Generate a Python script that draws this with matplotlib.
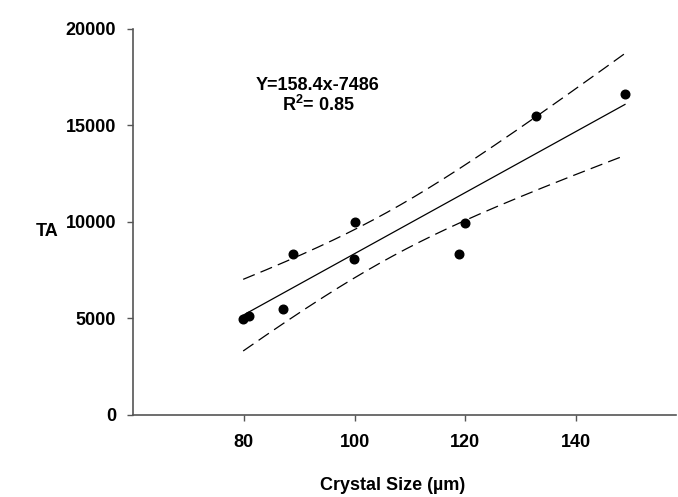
import numpy as np
import matplotlib
matplotlib.use("Agg")
import matplotlib.pyplot as plt

plt.rcParams['font.family'] = ['Liberation Sans', 'DejaVu Sans']
plt.rcParams['font.weight'] = 'bold'
plt.rcParams['mathtext.fontset'] = 'custom'
plt.rcParams['mathtext.bf'] = 'Liberation Sans:bold'
plt.rcParams['mathtext.rm'] = 'Liberation Sans:bold'

crystal_size = [79.9, 81.0, 87.0, 88.9, 100.0, 99.9, 118.8, 119.9, 132.8, 148.8]
ta = [4960, 5130, 5490, 8330, 10000, 8080, 8330, 9960, 15510, 16620]

# fit shown on the chart
slope = 158.4
intercept = -7486
r2 = 0.85
t_crit = 2.306  # 95%, df = 8

x = np.array(crystal_size)
y = np.array(ta)
n = len(x)
xf = np.linspace(x.min(), x.max(), 200)
yf = slope * xf + intercept
resid = y - (slope * x + intercept)
s = np.sqrt(np.sum(resid ** 2) / (n - 2))
sxx = np.sum((x - x.mean()) ** 2)
half = t_crit * s * np.sqrt(1.0 / n + (xf - x.mean()) ** 2 / sxx)

fig = plt.figure(figsize=(6.78, 4.97), dpi=100)
ax = fig.add_axes([0.196, 0.165, 0.801, 0.777])

ax.plot(xf, yf, color='black', lw=0.9)
ax.plot(xf, yf + half, color='black', lw=0.9, dashes=(10, 5))
ax.plot(xf, yf - half, color='black', lw=0.9, dashes=(10, 5))
ax.plot(x, y, 'o', color='black', markersize=6.2)

ax.set_xlim(60, 158)
ax.set_ylim(0, 20000)
ax.set_xticks([80, 100, 120, 140])
ax.set_yticks([0, 5000, 10000, 15000, 20000])

for sp in ['top', 'right']:
    ax.spines[sp].set_visible(False)
for sp in ['left', 'bottom']:
    ax.spines[sp].set_color('#555555')
    ax.spines[sp].set_linewidth(1.2)

ax.tick_params(axis='both', direction='out', length=4.5, width=1, color='#555555',
               labelsize=13)
ax.tick_params(axis='y', pad=7.5)
ax.tick_params(axis='x', pad=9)
for lab in ax.get_xticklabels() + ax.get_yticklabels():
    lab.set_fontweight('bold')

fig.text(47 / 678, 1 - 232 / 497, 'TA', ha='center', va='center',
         fontsize=13, fontweight='bold')
fig.text(393 / 678, 1 - 486 / 497, 'Crystal Size (\u00b5m)', ha='center', va='center',
         fontsize=13, fontweight='bold')

ax.text(93.4, 17050, 'Y=%.1fx%d' % (slope, intercept), ha='center', va='center',
        fontsize=13, fontweight='bold')
ax.text(93.4, 16050, r'R$^{\mathbf{2}}$= %.2f' % r2, ha='center', va='center',
        fontsize=13, fontweight='bold')

fig.savefig('out.png', dpi=100)
